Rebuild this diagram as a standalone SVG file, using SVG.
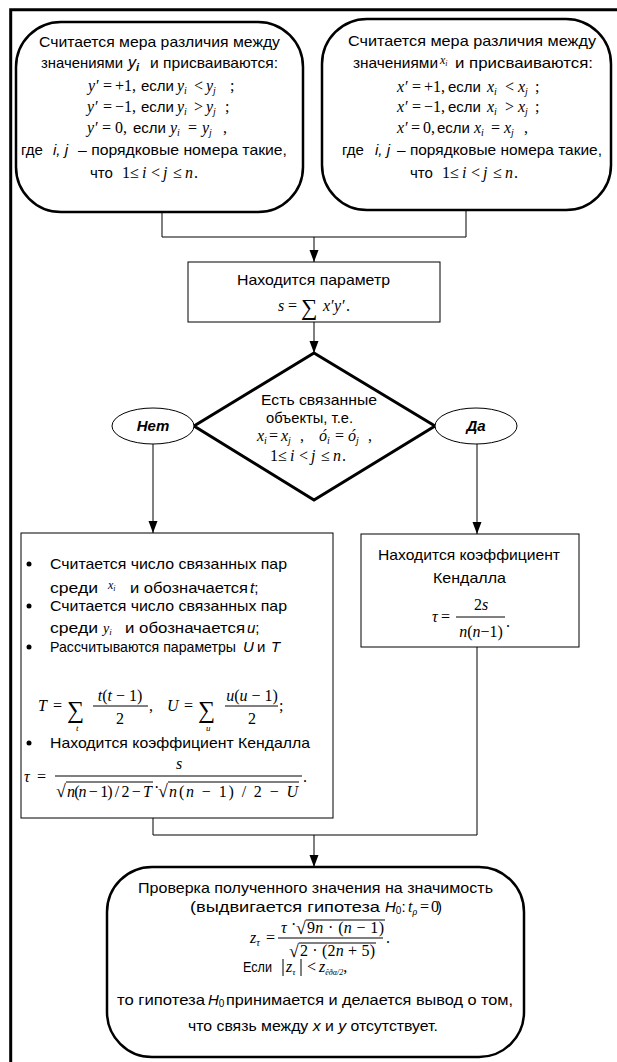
<svg xmlns="http://www.w3.org/2000/svg" width="617" height="1062" viewBox="0 0 617 1062">
<defs>
<marker id="ah" markerWidth="12" markerHeight="10" refX="12" refY="5" orient="auto" markerUnits="userSpaceOnUse"><path d="M0,0.5 L12,5 L0,9.5 z" fill="#000" stroke="none"/></marker>
<style>
.s{font-family:"Liberation Sans",Arial,sans-serif;font-size:15px;fill:#000}
.si{font-family:"Liberation Sans",Arial,sans-serif;font-size:15px;font-style:italic;fill:#000}
.m{font-family:"Liberation Serif","Times New Roman",serif;font-size:16px;fill:#000}
.i{font-style:italic}
.sub{font-size:10px}
.thick{fill:#fff;stroke:#000;stroke-width:2.5}
.thin{fill:#fff;stroke:#000;stroke-width:1}
.c{fill:none;stroke:#000;stroke-width:1}
.bar{stroke:#000;stroke-width:1}
</style>
</defs>
<rect width="617" height="1062" fill="#fff"/>
<path d="M617,9.7 H10.7 V1062" fill="none" stroke="#000" stroke-width="3"/>

<g id="connectors" class="c">
<path d="M162,212 V237 H466 V210"/>
<path d="M314,237 V262" marker-end="url(#ah)"/>
<path d="M314,322 V353" marker-end="url(#ah)"/>
<path d="M153,444 V533" marker-end="url(#ah)"/>
<path d="M477,444 V534" marker-end="url(#ah)"/>
<path d="M153,818 V835 H477 V647"/>
<path d="M314,835 V867" marker-end="url(#ah)"/>
</g>

<g id="node-y">
<rect class="thick" x="16" y="22" width="287" height="190" rx="45"/>
<text class="s" x="39" y="47" textLength="241" lengthAdjust="spacingAndGlyphs">Считается мера различия между</text>
<text class="s" x="41" y="68" textLength="82" lengthAdjust="spacingAndGlyphs">значениями</text>
<text class="si" x="128" y="68" style="font-size:16px">y<tspan style="font-size:11px" font-weight="bold" dy="3">i</tspan></text>
<text class="s" x="150" y="68" textLength="128" lengthAdjust="spacingAndGlyphs">и присваиваются:</text>
<text class="m" y="91"><tspan x="88" class="i">y</tspan><tspan x="96">′</tspan><tspan x="103">=</tspan><tspan x="115">+1,</tspan></text>
<text class="s" x="141" y="91">если</text>
<text class="m" y="91"><tspan x="177" class="i">y</tspan><tspan class="sub i" dy="3">i</tspan><tspan x="194" dy="-3">&lt;</tspan><tspan x="206" class="i">y</tspan><tspan class="sub i" dy="3">j</tspan><tspan x="230" dy="-3">;</tspan></text>
<text class="m" y="112"><tspan x="87" class="i">y</tspan><tspan x="95">′</tspan><tspan x="103">=</tspan><tspan x="115">−1,</tspan></text>
<text class="s" x="141" y="112">если</text>
<text class="m" y="112"><tspan x="177" class="i">y</tspan><tspan class="sub i" dy="3">i</tspan><tspan x="194" dy="-3">&gt;</tspan><tspan x="206" class="i">y</tspan><tspan class="sub i" dy="3">j</tspan><tspan x="225" dy="-3">;</tspan></text>
<text class="m" y="133"><tspan x="87" class="i">y</tspan><tspan x="95">′</tspan><tspan x="102">=</tspan><tspan x="115">0,</tspan></text>
<text class="s" x="133" y="133">если</text>
<text class="m" y="133"><tspan x="170" class="i">y</tspan><tspan class="sub i" dy="3">i</tspan><tspan x="188" dy="-3">=</tspan><tspan x="202" class="i">y</tspan><tspan class="sub i" dy="3">j</tspan><tspan x="223" dy="-3">,</tspan></text>
<text class="s" x="21" y="155">где</text>
<text class="si" x="53" y="155">i, j</text>
<text class="s" x="78" y="155" textLength="209" lengthAdjust="spacingAndGlyphs">– порядковые номера такие,</text>
<text class="s" x="90" y="178">что</text>
<text class="m" y="178"><tspan x="122">1</tspan><tspan x="130">≤</tspan><tspan x="142" class="i">i</tspan><tspan x="151">&lt;</tspan><tspan x="163" class="i">j</tspan><tspan x="173">≤</tspan><tspan x="185" class="i">n</tspan><tspan x="194">.</tspan></text>
</g>

<g id="node-x">
<rect class="thick" x="322" y="19" width="289" height="191" rx="45"/>
<text class="s" x="348" y="46" textLength="248" lengthAdjust="spacingAndGlyphs">Считается мера различия между</text>
<text class="s" x="353" y="68" textLength="85" lengthAdjust="spacingAndGlyphs">значениями</text>
<text class="m i" x="440" y="64" style="font-size:12px">x<tspan style="font-size:8px" dy="2">i</tspan></text>
<text class="s" x="455" y="68" textLength="138" lengthAdjust="spacingAndGlyphs">и присваиваются:</text>
<text class="m" y="92"><tspan x="397" class="i">x</tspan><tspan x="405">′</tspan><tspan x="412">=</tspan><tspan x="424">+1,</tspan></text>
<text class="s" x="448" y="92">если</text>
<text class="m" y="92"><tspan x="487" class="i">x</tspan><tspan class="sub i" dy="3">i</tspan><tspan x="505" dy="-3">&lt;</tspan><tspan x="518" class="i">x</tspan><tspan class="sub i" dy="3">j</tspan><tspan x="535" dy="-3">;</tspan></text>
<text class="m" y="112"><tspan x="397" class="i">x</tspan><tspan x="405">′</tspan><tspan x="412">=</tspan><tspan x="424">−1,</tspan></text>
<text class="s" x="448" y="112">если</text>
<text class="m" y="112"><tspan x="487" class="i">x</tspan><tspan class="sub i" dy="3">i</tspan><tspan x="505" dy="-3">&gt;</tspan><tspan x="518" class="i">x</tspan><tspan class="sub i" dy="3">j</tspan><tspan x="535" dy="-3">;</tspan></text>
<text class="m" y="133"><tspan x="397" class="i">x</tspan><tspan x="405">′</tspan><tspan x="411">=</tspan><tspan x="423">0,</tspan></text>
<text class="s" x="437" y="133">если</text>
<text class="m" y="133"><tspan x="474" class="i">x</tspan><tspan class="sub i" dy="3">i</tspan><tspan x="491" dy="-3">=</tspan><tspan x="504" class="i">x</tspan><tspan class="sub i" dy="3">j</tspan><tspan x="524" dy="-3">,</tspan></text>
<text class="s" x="342" y="155">где</text>
<text class="si" x="375" y="155">i, j</text>
<text class="s" x="397" y="155" textLength="205" lengthAdjust="spacingAndGlyphs">– порядковые номера такие,</text>
<text class="s" x="410" y="178">что</text>
<text class="m" y="178"><tspan x="442">1</tspan><tspan x="450">≤</tspan><tspan x="462" class="i">i</tspan><tspan x="471">&lt;</tspan><tspan x="483" class="i">j</tspan><tspan x="493">≤</tspan><tspan x="505" class="i">n</tspan><tspan x="514">.</tspan></text>
</g>

<g id="node-s">
<rect class="thin" x="188" y="262" width="252" height="60"/>
<text class="s" x="237" y="285" textLength="153" lengthAdjust="spacingAndGlyphs">Находится параметр</text>
<text class="m" y="311"><tspan x="278" class="i">s</tspan><tspan x="288">=</tspan></text>
<text class="m" x="301" y="315" style="font-size:23px">∑</text>
<text class="m" y="311"><tspan x="323" class="i">x</tspan><tspan x="331">′</tspan><tspan x="334" class="i">y</tspan><tspan x="342">′</tspan><tspan x="346">.</tspan></text>
</g>

<g id="node-decision">
<polygon points="314,353 435,426 314,500 194,426" fill="#fff" stroke="#000" stroke-width="3"/>
<text class="s" x="261" y="405" textLength="116" lengthAdjust="spacingAndGlyphs">Есть связанные</text>
<text class="s" x="266" y="423" textLength="87" lengthAdjust="spacingAndGlyphs">объекты, т.е.</text>
<text class="m" y="441"><tspan x="257" class="i">x</tspan><tspan class="sub i" dy="3">i</tspan><tspan x="269" dy="-3">=</tspan><tspan x="281" class="i">x</tspan><tspan class="sub i" dy="3">j</tspan><tspan x="300" dy="-3">,</tspan><tspan x="319" class="i">ó</tspan><tspan class="sub i" dy="3">i</tspan><tspan x="335" dy="-3">=</tspan><tspan x="348" class="i">ó</tspan><tspan class="sub i" dy="3">j</tspan><tspan x="368" dy="-3">,</tspan></text>
<text class="m" y="461"><tspan x="270">1</tspan><tspan x="278">≤</tspan><tspan x="290" class="i">i</tspan><tspan x="299">&lt;</tspan><tspan x="311" class="i">j</tspan><tspan x="321">≤</tspan><tspan x="333" class="i">n</tspan><tspan x="342">.</tspan></text>
</g>

<g id="label-no">
<ellipse class="thin" cx="153" cy="426" rx="41" ry="18"/>
<text class="si" x="153" y="431" text-anchor="middle" font-weight="bold">Нет</text>
</g>

<g id="label-yes">
<ellipse class="thin" cx="476" cy="426" rx="41" ry="18"/>
<text class="si" x="476" y="431" text-anchor="middle" font-weight="bold">Да</text>
</g>

<g id="node-tied">
<rect class="thin" x="21" y="533" width="312" height="285"/>
<circle cx="29" cy="564" r="2.5"/>
<circle cx="29" cy="606" r="2.5"/>
<circle cx="29" cy="647" r="2.5"/>
<circle cx="29" cy="743" r="2.5"/>
<text class="s" x="50" y="569" textLength="237" lengthAdjust="spacingAndGlyphs">Считается число связанных пар</text>
<text class="s" x="50" y="593" textLength="48" lengthAdjust="spacingAndGlyphs">среди</text>
<text class="m i" x="108" y="589" style="font-size:12px">x<tspan style="font-size:8px" dy="2">i</tspan></text>
<text class="s" x="130" y="593" textLength="118" lengthAdjust="spacingAndGlyphs">и обозначается</text>
<text class="si" x="250" y="593">t<tspan font-style="normal">;</tspan></text>
<text class="s" x="50" y="611" textLength="237" lengthAdjust="spacingAndGlyphs">Считается число связанных пар</text>
<text class="s" x="50" y="633" textLength="48" lengthAdjust="spacingAndGlyphs">среди</text>
<text class="m i" x="103" y="633" style="font-size:14px">y<tspan style="font-size:9px" dy="2">i</tspan></text>
<text class="s" x="125" y="633" textLength="120" lengthAdjust="spacingAndGlyphs">и обозначается</text>
<text class="si" x="247" y="633">u<tspan font-style="normal">;</tspan></text>
<text class="s" x="50" y="652" style="font-size:14.2px" textLength="186" lengthAdjust="spacingAndGlyphs">Рассчитываются параметры</text>
<text class="si" x="243" y="652">U</text>
<text class="s" x="257" y="652">и</text>
<text class="si" x="271" y="652">T</text>
<text class="m i" x="38" y="711">T</text>
<text class="m" x="53" y="711">=</text>
<text class="m" x="67" y="718" style="font-size:24px">∑</text>
<text class="m i" x="76" y="731" style="font-size:9px">t</text>
<text class="m" x="120" y="701" text-anchor="middle"><tspan class="i">t</tspan>(<tspan class="i">t</tspan> − 1)</text>
<line class="bar" x1="93" y1="706" x2="148" y2="706"/>
<text class="m" x="120" y="724" text-anchor="middle">2</text>
<text class="m" x="149" y="711">,</text>
<text class="m i" x="167" y="711">U</text>
<text class="m" x="184" y="711">=</text>
<text class="m" x="198" y="718" style="font-size:24px">∑</text>
<text class="m i" x="206" y="731" style="font-size:9px">u</text>
<text class="m" x="252" y="701" text-anchor="middle"><tspan class="i">u</tspan>(<tspan class="i">u</tspan> − 1)</text>
<line class="bar" x1="225" y1="706" x2="278" y2="706"/>
<text class="m" x="252" y="724" text-anchor="middle">2</text>
<text class="m" x="279" y="711">;</text>
<text class="s" x="50" y="748" textLength="260" lengthAdjust="spacingAndGlyphs">Находится коэффициент Кендалла</text>
<text class="m i" x="24" y="782">τ</text>
<text class="m" x="37" y="782">=</text>
<text class="m i" x="179" y="769" text-anchor="middle">s</text>
<line class="bar" x1="55" y1="776" x2="302" y2="776"/>
<text class="m" x="56" y="797" style="font-size:18px">√</text>
<line class="bar" x1="66" y1="782" x2="153" y2="782"/>
<text class="m" x="67" y="797" textLength="85" lengthAdjust="spacing"><tspan class="i">n</tspan>(<tspan class="i">n</tspan> − 1) / 2 − <tspan class="i">T</tspan></text>
<text class="m" x="154" y="793">·</text>
<text class="m" x="158" y="797" style="font-size:18px">√</text>
<line class="bar" x1="168" y1="782" x2="299" y2="782"/>
<text class="m" x="169" y="797" textLength="129" lengthAdjust="spacing"><tspan class="i">n</tspan>(<tspan class="i">n</tspan> − 1) / 2 − <tspan class="i">U</tspan></text>
<text class="m" x="303" y="782">.</text>
</g>

<g id="node-kendall">
<rect class="thin" x="361" y="534" width="218" height="113"/>
<text class="s" x="378" y="560" textLength="182" lengthAdjust="spacingAndGlyphs">Находится коэффициент</text>
<text class="s" x="433" y="583" textLength="73" lengthAdjust="spacingAndGlyphs">Кендалла</text>
<text class="m i" x="432" y="622">τ</text>
<text class="m" x="441" y="622">=</text>
<text class="m" x="481" y="610" text-anchor="middle">2<tspan class="i">s</tspan></text>
<line class="bar" x1="456" y1="617" x2="505" y2="617"/>
<text class="m" x="481" y="637" text-anchor="middle"><tspan class="i">n</tspan>(<tspan class="i">n</tspan>−1)</text>
<text class="m" x="506" y="627">.</text>
</g>

<g id="node-test">
<rect class="thick" x="107" y="867" width="417" height="190" rx="45"/>
<text class="s" x="138" y="893" textLength="355" lengthAdjust="spacingAndGlyphs">Проверка полученного значения на значимость</text>
<text class="s" x="190" y="912" textLength="190" lengthAdjust="spacingAndGlyphs">(выдвигается гипотеза</text>
<text class="si" x="385" y="912">H<tspan font-style="normal" style="font-size:10px" dy="2">0</tspan><tspan font-style="normal" dy="-2">:</tspan></text>
<text class="m" y="912"><tspan x="408" class="i">t</tspan><tspan class="i" style="font-size:10px" dy="3">ρ</tspan><tspan x="420" dy="-3">=</tspan><tspan x="431">0</tspan></text>
<text class="s" x="437" y="912">)</text>
<text class="m i" x="250" y="943">z<tspan style="font-size:10px" dy="3">τ</tspan></text>
<text class="m" x="266" y="943">=</text>
<text class="m i" x="281" y="933">τ</text>
<text class="m" x="291" y="930">·</text>
<text class="m" x="296" y="934" style="font-size:18px">√</text>
<line class="bar" x1="306" y1="920" x2="385" y2="920"/>
<text class="m" x="307" y="933" textLength="77" lengthAdjust="spacing">9<tspan class="i">n</tspan> · (<tspan class="i">n</tspan> − 1)</text>
<line class="bar" x1="278" y1="938" x2="383" y2="938"/>
<text class="m" x="289" y="957" style="font-size:18px">√</text>
<line class="bar" x1="299" y1="943" x2="376" y2="943"/>
<text class="m" x="300" y="956" textLength="75" lengthAdjust="spacing">2 · (2<tspan class="i">n</tspan> + 5)</text>
<text class="m" x="386" y="943">.</text>
<text class="s" x="243" y="972" textLength="29" lengthAdjust="spacingAndGlyphs">Если</text>
<line class="bar" x1="283" y1="959" x2="283" y2="976"/>
<text class="m i" x="286" y="972">z<tspan style="font-size:9px" dy="3">τ</tspan></text>
<line class="bar" x1="301" y1="959" x2="301" y2="976"/>
<text class="m" x="307" y="972">&lt;</text>
<text class="m i" x="319" y="972">z<tspan style="font-size:8px" dy="3">êðα/2</tspan><tspan style="font-size:16px" font-style="normal" dy="-3">,</tspan></text>
<text class="s" x="117" y="1005" textLength="88" lengthAdjust="spacingAndGlyphs">то гипотеза</text>
<text class="si" x="208" y="1005">H<tspan font-style="normal" style="font-size:10px" dy="2">0</tspan></text>
<text class="s" x="226" y="1005" textLength="287" lengthAdjust="spacingAndGlyphs">принимается и делается вывод о том,</text>
<text class="s" x="188" y="1031" textLength="250" lengthAdjust="spacingAndGlyphs">что связь между <tspan class="i">x</tspan> и <tspan class="i">y</tspan> отсутствует.</text>
</g>
</svg>
